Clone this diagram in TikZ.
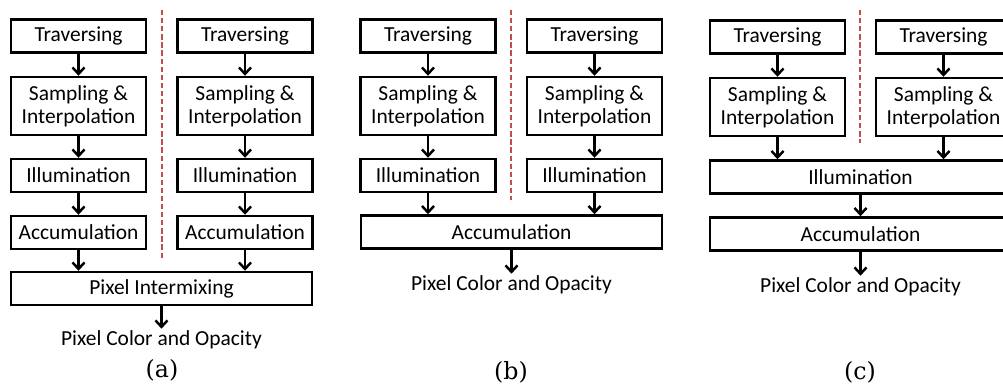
\documentclass[tikz,border=0pt]{standalone}
\usepackage{fontspec}
\newfontfamily\boxfont{Carlito}
\newfontfamily\capfont{DejaVu Serif}
\usetikzlibrary{arrows.meta}
\definecolor{splitred}{RGB}{192,80,77}

\tikzset{
  stage/.style={draw, line width=1.4pt, minimum width=2.70cm, minimum height=0.66cm, inner sep=1pt, align=center, font=\boxfont\fontsize{12.2}{13}\selectfont},
  widestage/.style={stage, minimum width=6.02cm},
  flow/.style={line width=1.4pt, -{Straight Barb[length=1.3mm,width=2.4mm]}},
  split/.style={splitred, line width=1.1pt, dash pattern=on 3pt off 1.6pt},
  outtext/.style={inner sep=1pt, font=\boxfont\fontsize{12.2}{13}\selectfont},
  caption/.style={font=\capfont\fontsize{13.5}{15}\selectfont}
}

\begin{document}
\begin{tikzpicture}
\useasboundingbox (0,0) rectangle (20.06,7.76);

\begin{scope}
  \node[stage] (travA1) at (1.57,7.04) {Traversing};
  \node[stage, minimum height=1.16cm] (sampA1) at (1.57,5.64) {Sampling \&\\Interpolation};
  \node[stage] (illumA1) at (1.57,4.25) {Illumination};
  \node[stage] (accA1) at (1.57,3.11) {Accumulation};
  \node[stage] (travA2) at (4.90,7.04) {Traversing};
  \node[stage, minimum height=1.16cm] (sampA2) at (4.90,5.64) {Sampling \&\\Interpolation};
  \node[stage] (illumA2) at (4.90,4.25) {Illumination};
  \node[stage] (accA2) at (4.90,3.11) {Accumulation};
  \node[widestage] (mixA) at (3.23,1.99) {Pixel Intermixing};
  \node[outtext] (outA) at (3.23,0.96) {Pixel Color and Opacity};
  \node[caption] (capA) at (3.24,0.36) {(a)};
  \draw[split] (3.24,7.56) -- (3.24,2.60);
  \draw[flow] (travA1) -- (sampA1);
  \draw[flow] (sampA1) -- (illumA1);
  \draw[flow] (illumA1) -- (accA1);
  \draw[flow] (travA2) -- (sampA2);
  \draw[flow] (sampA2) -- (illumA2);
  \draw[flow] (illumA2) -- (accA2);
  \draw[flow] (accA1.south) -- (accA1.south |- mixA.north);
  \draw[flow] (accA2.south) -- (accA2.south |- mixA.north);
  \draw[flow] (mixA) -- (outA);
\end{scope}

\begin{scope}
  \node[stage] (travB1) at (8.56,7.04) {Traversing};
  \node[stage, minimum height=1.16cm] (sampB1) at (8.56,5.64) {Sampling \&\\Interpolation};
  \node[stage] (illumB1) at (8.56,4.25) {Illumination};
  \node[stage] (travB2) at (11.89,7.04) {Traversing};
  \node[stage, minimum height=1.16cm] (sampB2) at (11.89,5.64) {Sampling \&\\Interpolation};
  \node[stage] (illumB2) at (11.89,4.25) {Illumination};
  \node[widestage] (accB) at (10.23,3.12) {Accumulation};
  \node[outtext] (outB) at (10.23,2.06) {Pixel Color and Opacity};
  \node[caption] (capB) at (10.22,0.32) {(b)};
  \draw[split] (10.22,7.56) -- (10.22,3.76);
  \draw[flow] (travB1) -- (sampB1);
  \draw[flow] (sampB1) -- (illumB1);
  \draw[flow] (travB2) -- (sampB2);
  \draw[flow] (sampB2) -- (illumB2);
  \draw[flow] (illumB1.south) -- (illumB1.south |- accB.north);
  \draw[flow] (illumB2.south) -- (illumB2.south |- accB.north);
  \draw[flow] (accB) -- (outB);
\end{scope}

\begin{scope}
  \node[stage] (travC1) at (15.55,7.02) {Traversing};
  \node[stage, minimum height=1.16cm] (sampC1) at (15.55,5.62) {Sampling \&\\Interpolation};
  \node[stage] (travC2) at (18.87,7.02) {Traversing};
  \node[stage, minimum height=1.16cm] (sampC2) at (18.87,5.62) {Sampling \&\\Interpolation};
  \node[widestage] (illumC) at (17.21,4.22) {Illumination};
  \node[widestage] (accC) at (17.21,3.08) {Accumulation};
  \node[outtext] (outC) at (17.21,2.02) {Pixel Color and Opacity};
  \node[caption] (capC) at (17.20,0.32) {(c)};
  \draw[split] (17.20,7.56) -- (17.20,4.90);
  \draw[flow] (travC1) -- (sampC1);
  \draw[flow] (travC2) -- (sampC2);
  \draw[flow] (sampC1.south) -- (sampC1.south |- illumC.north);
  \draw[flow] (sampC2.south) -- (sampC2.south |- illumC.north);
  \draw[flow] (illumC) -- (accC);
  \draw[flow] (accC) -- (outC);
\end{scope}
\end{tikzpicture}
\end{document}
